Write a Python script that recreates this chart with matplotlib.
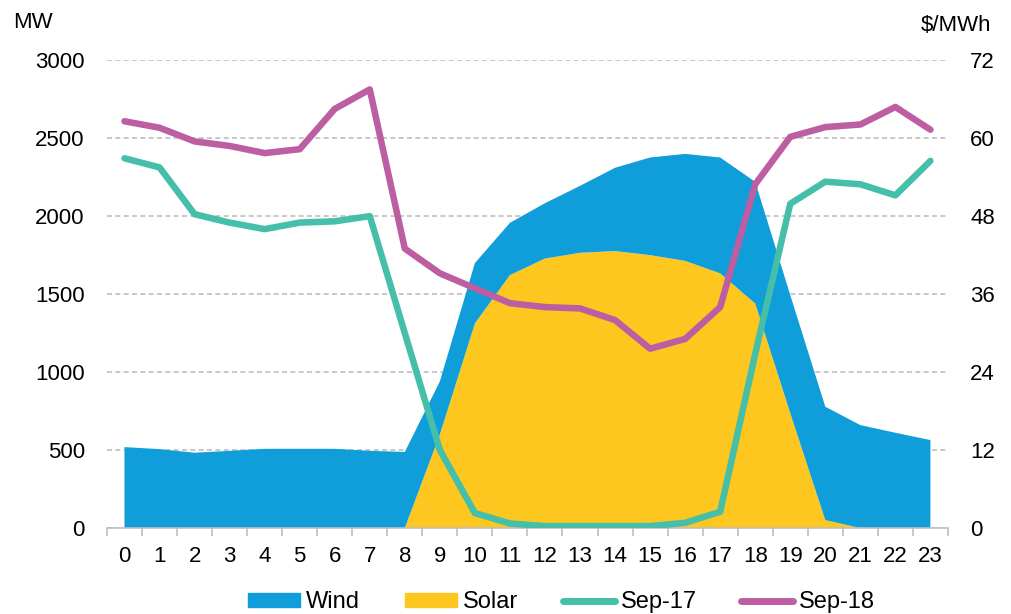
import numpy as np
import matplotlib.pyplot as plt
from matplotlib.patches import Patch
from matplotlib.lines import Line2D

plt.rcParams['font.family'] = ['Liberation Sans', 'DejaVu Sans']

hours = list(range(24))
solar = [0, 0, 0, 0, 0, 0, 0, 0, 0, 600, 1312, 1622, 1728, 1765, 1776, 1750,
         1713, 1633, 1440, 737, 51, 0, 0, 0]
wind = [519, 506, 483, 495, 508, 508, 508, 495, 488, 340, 387, 335, 355, 429, 534, 626,
        686, 743, 780, 757, 727, 660, 611, 564]
price_sep17 = [56.9, 55.5, 48.3, 47.0, 46.0, 47.0, 47.2, 48.0, 30.0, 12.0, 2.3, 0.7,
               0.3, 0.3, 0.3, 0.3, 0.8, 2.5, 26.8, 49.9, 53.3, 52.9, 51.2, 56.5]
price_sep18 = [62.6, 61.6, 59.5, 58.8, 57.7, 58.3, 64.5, 67.5, 43.0, 39.2, 36.9, 34.6,
               34.0, 33.8, 32.0, 27.6, 29.1, 34.0, 52.9, 60.2, 61.7, 62.1, 64.8, 61.3]

c_wind = '#0F9ED9'
c_solar = '#FDC71F'
c_s17 = '#45BFAA'
c_s18 = '#BD5EA3'

fig = plt.figure(figsize=(10.12, 6.14), dpi=100)
ax = fig.add_axes([0.1057, 0.140, 0.831, 0.762])
ax2 = ax.twinx()

x = np.array(hours)
ax.stackplot(x, solar, wind, colors=[c_solar, c_wind], linewidth=0, zorder=2)
ax.set_xlim(-0.5, 23.5)
ax.set_ylim(0, 3000)
ax.set_yticks(range(0, 3001, 500))
ax.yaxis.grid(True, color='#BFBFBF', linestyle=(0, (3, 2)), linewidth=1.2, zorder=0)
ax.set_axisbelow(True)
ax.set_xticks(x)
ax.set_xticks(np.arange(-0.5, 24, 1), minor=True)
ax.tick_params(axis='x', which='major', length=0, pad=13, labelsize=16)
ax.tick_params(axis='x', which='minor', length=6, color='#BFBFBF', width=1.2)
ax.tick_params(axis='y', length=0, pad=16, labelsize=16)
for s in ['left', 'right', 'top']:
    ax.spines[s].set_visible(False)
ax.spines['bottom'].set_color('#BFBFBF')
ax.spines['bottom'].set_linewidth(1.2)

ax2.plot(x, price_sep17, color=c_s17, lw=4.7, solid_capstyle='round', solid_joinstyle='round')
ax2.plot(x, price_sep18, color=c_s18, lw=4.7, solid_capstyle='round', solid_joinstyle='round')
ax2.set_ylim(0, 72)
ax2.set_yticks(range(0, 73, 12))
ax2.tick_params(axis='y', length=0, pad=16, labelsize=16)
for s in ['left', 'right', 'top', 'bottom']:
    ax2.spines[s].set_visible(False)

fig.text(0.013, 0.964, 'MW', fontsize=16, ha='left', va='center')
fig.text(0.980, 0.958, '$/MWh', fontsize=16, ha='right', va='center')

handles = [Patch(color=c_wind, label='Wind'), Patch(color=c_solar, label='Solar'),
           Line2D([], [], color=c_s17, lw=5, solid_capstyle='round', label='Sep-17'),
           Line2D([], [], color=c_s18, lw=5, solid_capstyle='round', label='Sep-18')]
fig.legend(handles=handles, loc='center', bbox_to_anchor=(0.555, 0.019), ncol=4,
           frameon=False, fontsize=17, handlelength=2.2, handleheight=0.5,
           columnspacing=1.9, handletextpad=0.25, borderpad=0)

fig.savefig('out.png', dpi=100)
